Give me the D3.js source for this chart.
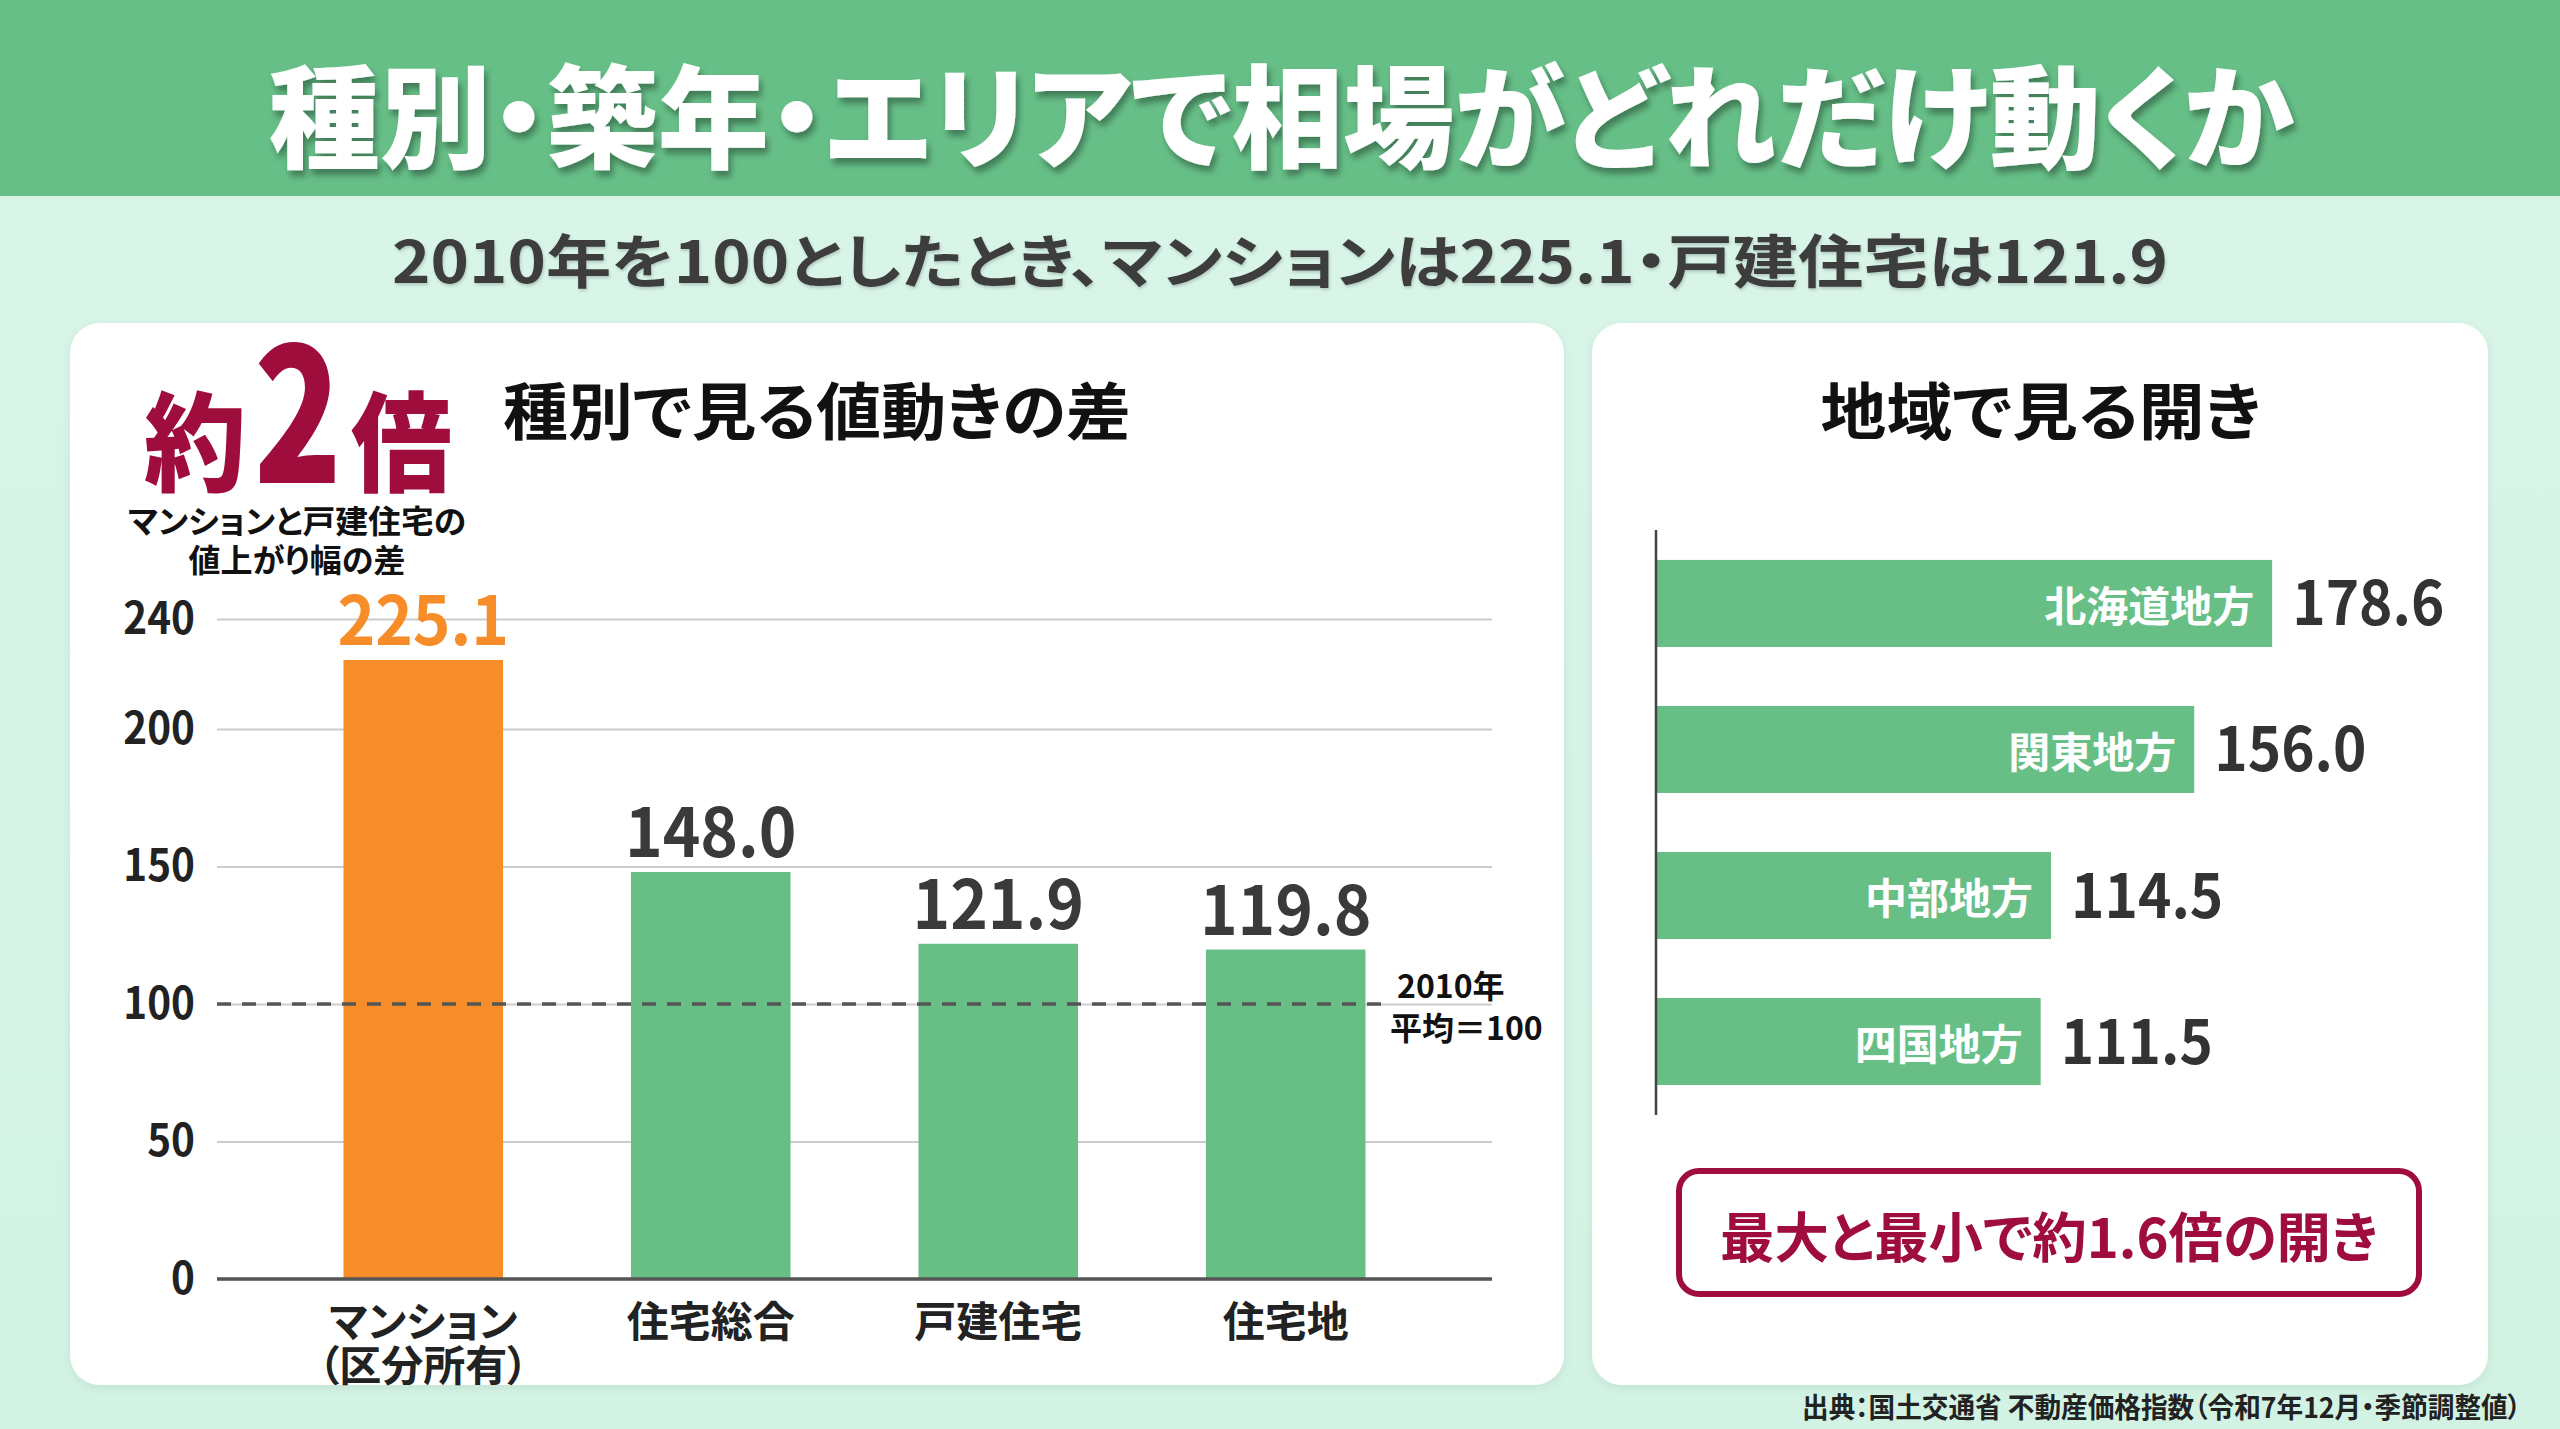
<!DOCTYPE html>
<html lang="ja">
<head>
<meta charset="utf-8">
<script src="https://cdn.jsdelivr.net/npm/d3@7"></script>
<style>
  html, body { margin: 0; padding: 0; background: #d6f4e7; }
  svg { display: block; }
  text { font-family: "Noto Sans CJK JP", "Noto Sans", sans-serif; font-feature-settings: "palt" 1; }
</style>
</head>
<body>
<svg id="chart" width="2560" height="1429"></svg>
<script>
// ---------- data ----------
const titleText = "種別・築年・エリアで相場がどれだけ動くか";
const subtitleText = "2010年を100としたとき、マンションは225.1・戸建住宅は121.9";
const typeCategories = ["マンション\n（区分所有）", "住宅総合", "戸建住宅", "住宅地"];
const typeValues = [225.1, 148.0, 121.9, 119.8];
const typeHighlight = [true, false, false, false];
const yTicks = [0, 50, 100, 150, 200, 240];
const baseValue = 100;
const baseNote = ["2010年", "平均＝100"];
const leftPanelTitle = "種別で見る値動きの差";
const ratioParts = ["約", "2", "倍"];
const ratioNote = ["マンションと戸建住宅の", "値上がり幅の差"];
const regionNames = ["北海道地方", "関東地方", "中部地方", "四国地方"];
const regionValues = [178.6, 156.0, 114.5, 111.5];
const rightPanelTitle = "地域で見る開き";
const calloutText = "最大と最小で約1.6倍の開き";
const sourceText = "出典：国土交通省 不動産価格指数（令和7年12月・季節調整値）";

// ---------- colors ----------
const C = {
  header: "#66bf87", panel: "#ffffff", green: "#67bf86",
  orange: "#f68d29", crimson: "#9e0d3b", dark: "#222222", value: "#3a3a3a",
  grid: "#cccccc", axis: "#555555"
};

const svg = d3.select("#chart");
const defs = svg.append("defs");
const bgGrad = defs.append("linearGradient").attr("id", "bgGrad").attr("x1", 0).attr("y1", 0).attr("x2", 0).attr("y2", 1);
bgGrad.append("stop").attr("offset", "0%").attr("stop-color", "#d9f5e9");
bgGrad.append("stop").attr("offset", "100%").attr("stop-color", "#d2f3e3");
const ts = defs.append("filter").attr("id", "titleShadow").attr("x", "-5%").attr("y", "-20%").attr("width", "110%").attr("height", "150%");
ts.append("feDropShadow").attr("dx", 3).attr("dy", 6).attr("stdDeviation", 3).attr("flood-color", "#000").attr("flood-opacity", 0.35);
const ps = defs.append("filter").attr("id", "panelShadow").attr("x", "-5%").attr("y", "-5%").attr("width", "110%").attr("height", "110%");
ps.append("feDropShadow").attr("dx", 0).attr("dy", 3).attr("stdDeviation", 5).attr("flood-color", "#000").attr("flood-opacity", 0.07);
const ss = defs.append("filter").attr("id", "softShadow").attr("x", "-5%").attr("y", "-20%").attr("width", "110%").attr("height", "150%");
ss.append("feDropShadow").attr("dx", 1).attr("dy", 2).attr("stdDeviation", 1.5).attr("flood-color", "#000").attr("flood-opacity", 0.18);

// condense a text element to a fraction of its natural length
function condense(sel, f) {
  sel.each(function () {
    const w = this.getComputedTextLength();
    d3.select(this).attr("textLength", w * f).attr("lengthAdjust", "spacingAndGlyphs");
  });
}

// background + header
svg.append("rect").attr("x", 0).attr("y", 0).attr("width", 2560).attr("height", 1429).attr("fill", "url(#bgGrad)");
svg.append("rect").attr("x", 0).attr("y", 0).attr("width", 2560).attr("height", 196).attr("fill", C.header);

svg.append("text").attr("x", 1281).attr("y", 111)
  .attr("text-anchor", "middle").attr("dominant-baseline", "central")
  .attr("font-size", 112).attr("font-weight", 900).attr("fill", "#ffffff")
  .attr("textLength", 2025).attr("lengthAdjust", "spacingAndGlyphs")
  .attr("filter", "url(#titleShadow)")
  .text(titleText);

svg.append("text").attr("x", 1280).attr("y", 258)
  .attr("text-anchor", "middle").attr("dominant-baseline", "central")
  .attr("font-size", 58).attr("font-weight", 700).attr("fill", "#3d3d3d")
  .attr("textLength", 1776).attr("lengthAdjust", "spacingAndGlyphs")
  .attr("filter", "url(#softShadow)")
  .text(subtitleText);

// panels
svg.append("rect").attr("x", 70).attr("y", 323).attr("width", 1494).attr("height", 1062)
  .attr("rx", 30).attr("fill", C.panel).attr("filter", "url(#panelShadow)");
svg.append("rect").attr("x", 1592).attr("y", 323).attr("width", 896).attr("height", 1062)
  .attr("rx", 30).attr("fill", C.panel).attr("filter", "url(#panelShadow)");

// ---------- left panel ----------
svg.append("text").attr("x", 503).attr("y", 408)
  .attr("dominant-baseline", "central")
  .attr("font-size", 62).attr("font-weight", 700).attr("fill", "#111")
  .attr("textLength", 628).attr("lengthAdjust", "spacingAndGlyphs")
  .text(leftPanelTitle);

// 約2倍
svg.append("text").attr("x", 144).attr("y", 436).attr("dominant-baseline", "central")
  .attr("font-size", 108).attr("font-weight", 900).attr("fill", C.crimson)
  .attr("textLength", 102).attr("lengthAdjust", "spacingAndGlyphs").text(ratioParts[0]);
svg.append("text").attr("x", 254).attr("y", 483)
  .attr("font-size", 186).attr("font-weight", 900).attr("fill", C.crimson)
  .attr("textLength", 88).attr("lengthAdjust", "spacingAndGlyphs").text(ratioParts[1]);
svg.append("text").attr("x", 351).attr("y", 436).attr("dominant-baseline", "central")
  .attr("font-size", 108).attr("font-weight", 900).attr("fill", C.crimson)
  .attr("textLength", 101).attr("lengthAdjust", "spacingAndGlyphs").text(ratioParts[2]);
const ratioWidths = [338, 217];
svg.selectAll(".ratioNote").data(ratioNote).join("text").attr("class", "ratioNote")
  .attr("x", 297).attr("y", (d, i) => 519 + i * 39)
  .attr("text-anchor", "middle").attr("dominant-baseline", "central")
  .attr("font-size", 32).attr("font-weight", 700).attr("fill", "#111")
  .attr("textLength", (d, i) => ratioWidths[i]).attr("lengthAdjust", "spacingAndGlyphs")
  .text(d => d);

// scales
const x = d3.scaleBand().domain(typeCategories).range([217, 1492]).paddingInner(0.445).paddingOuter(0.44);
const y = d3.scaleLinear().domain([0, 240]).range([1279, 619]);

const gAxis = svg.append("g").attr("transform", "translate(217,0)")
  .call(d3.axisLeft(y).tickValues(yTicks).tickSize(-(1492 - 217)).tickPadding(22).tickFormat(d3.format("d")));
gAxis.select(".domain").remove();
gAxis.selectAll(".tick line").attr("stroke", C.grid).attr("stroke-width", 2);
gAxis.selectAll(".tick text").attr("font-size", 44).attr("font-weight", 700).attr("fill", C.dark)
  .attr("font-family", "\"Noto Sans CJK JP\", sans-serif");
condense(gAxis.selectAll(".tick text"), 0.92);

// bars
svg.selectAll(".vbar").data(typeValues).join("rect").attr("class", "vbar")
  .attr("x", (d, i) => x(typeCategories[i]))
  .attr("y", d => y(d))
  .attr("width", x.bandwidth())
  .attr("height", d => y(0) - y(d))
  .attr("fill", (d, i) => typeHighlight[i] ? C.orange : C.green);

// baseline 0 axis
svg.append("line").attr("x1", 217).attr("x2", 1492).attr("y1", y(0)).attr("y2", y(0))
  .attr("stroke", C.axis).attr("stroke-width", 3.5);

// 100 dashed line
svg.append("line").attr("x1", 217).attr("x2", 1387).attr("y1", y(baseValue)).attr("y2", y(baseValue))
  .attr("stroke", "#555").attr("stroke-width", 3.5).attr("stroke-dasharray", "14 11");
svg.selectAll(".baseNote").data(baseNote).join("text").attr("class", "baseNote")
  .attr("x", (d, i) => i === 0 ? 1397 : 1390).attr("y", (d, i) => 984 + i * 42)
  .attr("dominant-baseline", "central")
  .attr("font-size", 32).attr("font-weight", 700).attr("fill", "#111")
  .text(d => d);

// value labels
const vlabels = svg.selectAll(".vlabel").data(typeValues).join("text").attr("class", "vlabel")
  .attr("x", (d, i) => x(typeCategories[i]) + x.bandwidth() / 2)
  .attr("y", d => y(d) - 15)
  .attr("text-anchor", "middle")
  .attr("font-size", 68).attr("font-weight", 700)
  .attr("fill", (d, i) => typeHighlight[i] ? C.orange : C.value)
  .text(d => d3.format(".1f")(d));
condense(vlabels, 0.94);

// category labels
typeCategories.forEach(cat => {
  const lines = cat.split("\n");
  svg.append("text")
    .attr("x", x(cat) + x.bandwidth() / 2)
    .attr("text-anchor", "middle")
    .attr("font-size", 42).attr("font-weight", 700).attr("fill", C.dark)
    .selectAll("tspan").data(lines).join("tspan")
    .attr("x", x(cat) + x.bandwidth() / 2)
    .attr("y", (d, i) => 1318 + i * 44)
    .attr("dominant-baseline", "central")
    .text(d => d);
});

// ---------- right panel ----------
svg.append("text").attr("x", 2041).attr("y", 408)
  .attr("text-anchor", "middle").attr("dominant-baseline", "central")
  .attr("font-size", 62).attr("font-weight", 700).attr("fill", "#111")
  .attr("textLength", 441).attr("lengthAdjust", "spacingAndGlyphs")
  .text(rightPanelTitle);

const hy = d3.scaleBand().domain(regionNames).range([530, 1115]).paddingInner(0.404).paddingOuter(0.205);
const hx = d3.scaleLinear().domain([0, 200]).range([1656, 2346]);

svg.selectAll(".hbar").data(regionValues).join("rect").attr("class", "hbar")
  .attr("x", hx(0))
  .attr("y", (d, i) => hy(regionNames[i]))
  .attr("width", d => hx(d) - hx(0))
  .attr("height", hy.bandwidth())
  .attr("fill", C.green);

svg.append("line").attr("x1", hx(0)).attr("x2", hx(0)).attr("y1", 530).attr("y2", 1115)
  .attr("stroke", "#444").attr("stroke-width", 2.5);

svg.selectAll(".hname").data(regionNames).join("text").attr("class", "hname")
  .attr("x", (d, i) => hx(regionValues[i]) - 18)
  .attr("y", d => hy(d) + hy.bandwidth() / 2)
  .attr("text-anchor", "end").attr("dominant-baseline", "central")
  .attr("font-size", 42).attr("font-weight", 700).attr("fill", "#ffffff")
  .text(d => d);

const hvals = svg.selectAll(".hval").data(regionValues).join("text").attr("class", "hval")
  .attr("x", d => hx(d) + 20)
  .attr("y", (d, i) => hy(regionNames[i]) + hy.bandwidth() / 2 + 22)
  .attr("font-size", 61).attr("font-weight", 700).attr("fill", "#333")
  .text(d => d3.format(".1f")(d));
condense(hvals, 0.93);

// callout
svg.append("rect").attr("x", 1679).attr("y", 1171).attr("width", 740).attr("height", 123)
  .attr("rx", 20).attr("fill", "#ffffff").attr("stroke", C.crimson).attr("stroke-width", 6);
svg.append("text").attr("x", 2049).attr("y", 1234)
  .attr("text-anchor", "middle").attr("dominant-baseline", "central")
  .attr("font-size", 54).attr("font-weight", 700).attr("fill", C.crimson)
  .attr("textLength", 658).attr("lengthAdjust", "spacingAndGlyphs")
  .text(calloutText);

// source
svg.append("text").attr("x", 2521).attr("y", 1406)
  .attr("text-anchor", "end").attr("dominant-baseline", "central")
  .attr("font-size", 28).attr("font-weight", 700).attr("fill", "#222")
  .attr("textLength", 719).attr("lengthAdjust", "spacingAndGlyphs")
  .text(sourceText);
</script>
</body>
</html>
